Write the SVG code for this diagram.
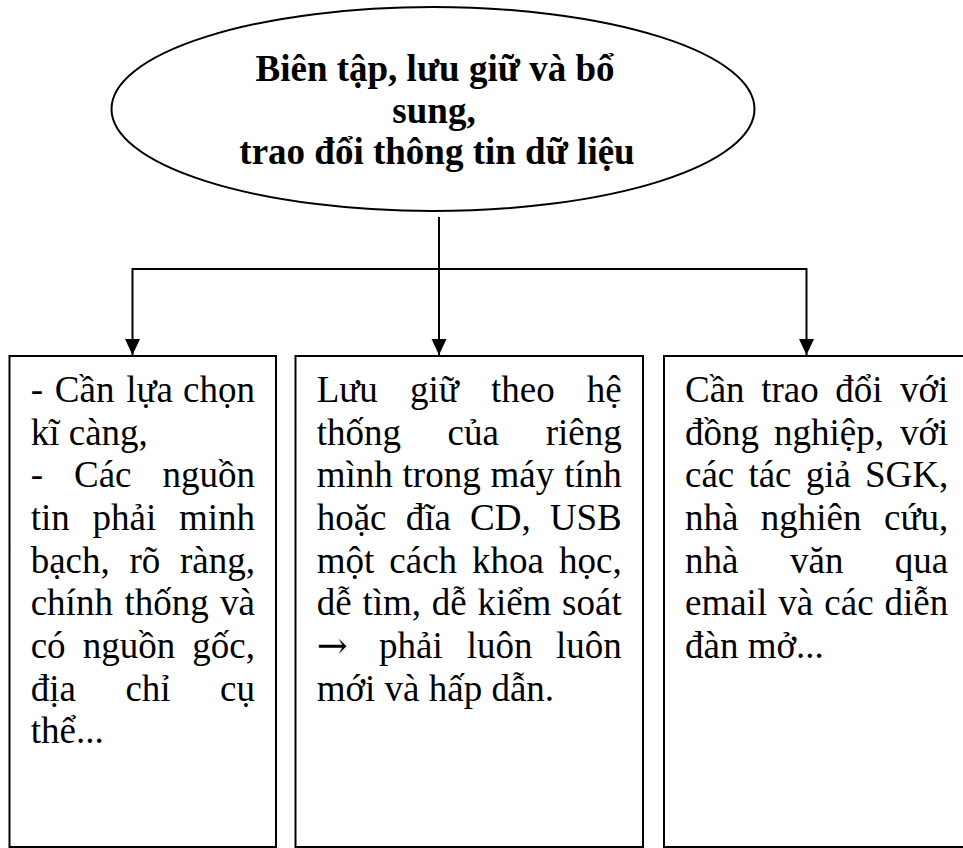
<svg xmlns="http://www.w3.org/2000/svg" width="963" height="848" viewBox="0 0 963 848">
<style>
.shape{fill:#fff;stroke:#000;stroke-width:2}
.conn{fill:none;stroke:#000;stroke-width:2}
.title{font-family:"Liberation Serif","Times New Roman",serif;font-size:37px;font-weight:bold;text-anchor:middle;fill:#000}
.body{font-family:"Liberation Serif","Times New Roman","DejaVu Serif",serif;font-size:37px;fill:#000}
.arw{font-family:"DejaVu Serif",serif;font-size:37px}
.e{text-anchor:end}
</style>
<defs>
<marker id="arrow" markerUnits="userSpaceOnUse" markerWidth="16" markerHeight="16" refX="16" refY="7.5" orient="auto">
<path d="M0,0 L16,7.5 L0,15 Z" fill="#000"/>
</marker>
</defs>
<rect width="963" height="848" fill="#fff"/>
<g id="connectors">
<path class="conn" d="M439,217 V355" marker-end="url(#arrow)"/>
<path class="conn" d="M132.5,269 H806.5"/>
<path class="conn" d="M132.5,268 V355" marker-end="url(#arrow)"/>
<path class="conn" d="M806.5,268 V355" marker-end="url(#arrow)"/>
</g>
<g id="root">
<ellipse class="shape" cx="433" cy="109" rx="321.5" ry="102"/>
<text class="title" x="435" y="81">Biên tập, lưu giữ và bổ</text>
<text class="title" x="434" y="122.5">sung,</text>
<text class="title" x="437" y="164">trao đổi thông tin dữ liệu</text>
</g>
<g id="box1">
<rect class="shape" x="9.5" y="356" width="266.5" height="491"/>
<text class="body" y="402"><tspan x="30.7">-</tspan><tspan x="54.8">Cần</tspan><tspan x="126.2">lựa</tspan><tspan x="255" class="e">chọn</tspan></text>
<text class="body" y="444.7"><tspan x="30.7">kĩ càng,</tspan></text>
<text class="body" y="487.3"><tspan x="30.7">-</tspan><tspan x="74">Các</tspan><tspan x="255" class="e">nguồn</tspan></text>
<text class="body" y="530"><tspan x="30.7">tin</tspan><tspan x="92.5">phải</tspan><tspan x="255" class="e">minh</tspan></text>
<text class="body" y="572.7"><tspan x="30.7">bạch,</tspan><tspan x="129.5">rõ</tspan><tspan x="255" class="e">ràng,</tspan></text>
<text class="body" y="615.3"><tspan x="30.7">chính</tspan><tspan x="124.4">thống</tspan><tspan x="255" class="e">và</tspan></text>
<text class="body" y="658"><tspan x="30.7">có</tspan><tspan x="82.7">nguồn</tspan><tspan x="255" class="e">gốc,</tspan></text>
<text class="body" y="700.7"><tspan x="30.7">địa</tspan><tspan x="125.4">chỉ</tspan><tspan x="255" class="e">cụ</tspan></text>
<text class="body" y="743.3"><tspan x="30.7">thể...</tspan></text>
</g>
<g id="box2">
<rect class="shape" x="295.5" y="356" width="347.5" height="491"/>
<text class="body" y="402"><tspan x="316.7">Lưu</tspan><tspan x="410.1">giữ</tspan><tspan x="491.1">theo</tspan><tspan x="621.7" class="e">hệ</tspan></text>
<text class="body" y="444.7"><tspan x="316.7">thống</tspan><tspan x="447.6">của</tspan><tspan x="621.7" class="e">riêng</tspan></text>
<text class="body" y="487.3"><tspan x="316.7">mình</tspan><tspan x="402.6">trong</tspan><tspan x="490.5">máy</tspan><tspan x="621.7" class="e">tính</tspan></text>
<text class="body" y="530"><tspan x="316.7">hoặc</tspan><tspan x="405.7">đĩa</tspan><tspan x="470">CD,</tspan><tspan x="621.7" class="e">USB</tspan></text>
<text class="body" y="572.7"><tspan x="316.7">một</tspan><tspan x="389.3">cách</tspan><tspan x="472.1">khoa</tspan><tspan x="621.7" class="e">học,</tspan></text>
<text class="body" y="615.3"><tspan x="316.7">dễ</tspan><tspan x="362.4">tìm,</tspan><tspan x="431.7">dễ</tspan><tspan x="477.4">kiểm</tspan><tspan x="621.7" class="e">soát</tspan></text>
<text class="body" y="658"><tspan x="316.7" class="arw">→</tspan><tspan x="379">phải</tspan><tspan x="466.7">luôn</tspan><tspan x="621.7" class="e">luôn</tspan></text>
<text class="body" y="700.7"><tspan x="316.7">mới và hấp dẫn.</tspan></text>
</g>
<g id="box3">
<rect class="shape" x="664" y="356" width="320" height="491"/>
<text class="body" y="402"><tspan x="685">Cần</tspan><tspan x="761.2">trao</tspan><tspan x="835.3">đổi</tspan><tspan x="948.3" class="e">với</tspan></text>
<text class="body" y="444.7"><tspan x="685">đồng</tspan><tspan x="774.1">nghiệp,</tspan><tspan x="948.3" class="e">với</tspan></text>
<text class="body" y="487.3"><tspan x="685">các</tspan><tspan x="748.4">tác</tspan><tspan x="805.7">giả</tspan><tspan x="948.3" class="e">SGK,</tspan></text>
<text class="body" y="530"><tspan x="685">nhà</tspan><tspan x="760.8">nghiên</tspan><tspan x="948.3" class="e">cứu,</tspan></text>
<text class="body" y="572.7"><tspan x="685">nhà</tspan><tspan x="790">văn</tspan><tspan x="948.3" class="e">qua</tspan></text>
<text class="body" y="615.3"><tspan x="685">email</tspan><tspan x="778.3">và</tspan><tspan x="824.3">các</tspan><tspan x="948.3" class="e">diễn</tspan></text>
<text class="body" y="658"><tspan x="685">đàn mở...</tspan></text>
</g>
</svg>
